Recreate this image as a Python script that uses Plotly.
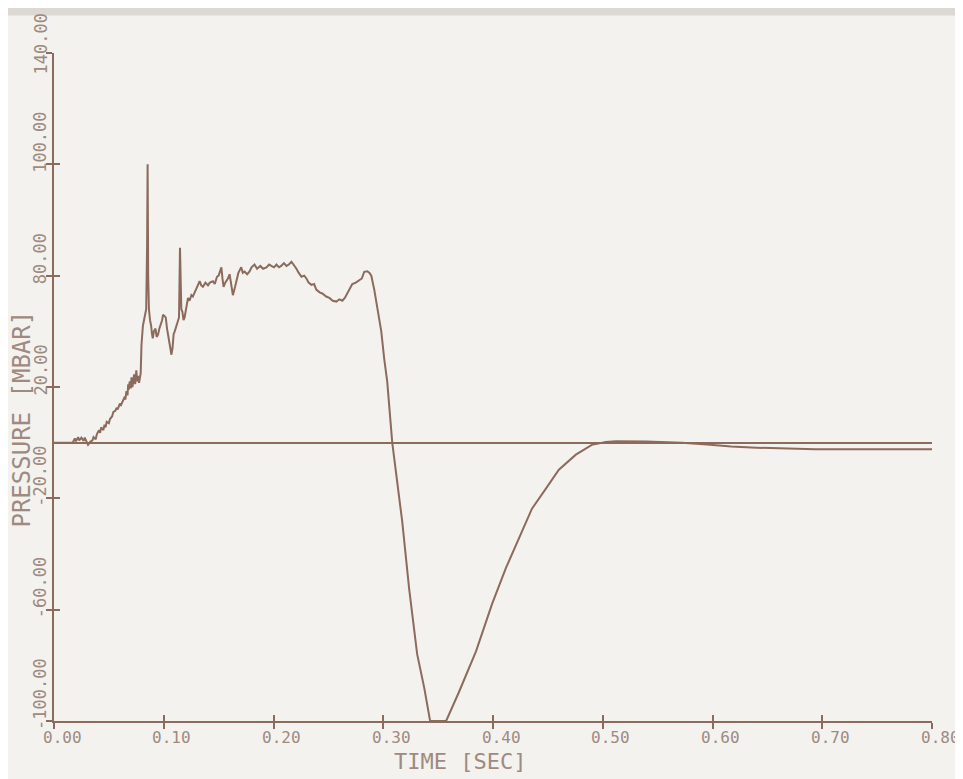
import plotly.graph_objects as go

# ---- data (time in s, pressure in mbar) ----
time_s = [0.000, 0.017, 0.019, 0.020, 0.022, 0.023, 0.025, 0.027, 0.028, 0.030,
          0.031, 0.033, 0.035, 0.036, 0.038, 0.039, 0.041, 0.042, 0.043, 0.045,
          0.046, 0.047, 0.048, 0.050, 0.051, 0.053, 0.054, 0.056, 0.057, 0.058,
          0.060, 0.061, 0.063, 0.0645, 0.065, 0.066, 0.067, 0.0676, 0.068, 0.069,
          0.070, 0.0706, 0.0715, 0.072, 0.073, 0.074, 0.075, 0.0758, 0.0765, 0.0775,
          0.078, 0.079, 0.0797, 0.0805, 0.081, 0.082, 0.083, 0.084, 0.0848, 0.0853,
          0.0858, 0.0865, 0.0875, 0.0885, 0.0893, 0.090, 0.091, 0.0925, 0.0935, 0.0948,
          0.096, 0.097, 0.0985, 0.0994, 0.1005, 0.1018, 0.103, 0.104, 0.1055, 0.107,
          0.108, 0.109, 0.110, 0.1115, 0.1128, 0.1139, 0.1148, 0.1152, 0.116, 0.117,
          0.118, 0.119, 0.1205, 0.1221, 0.1235, 0.1252, 0.1265, 0.1282, 0.130, 0.1327,
          0.1342, 0.1357, 0.138, 0.1403, 0.142, 0.1448, 0.1465, 0.1485, 0.150, 0.1515,
          0.1525, 0.1535, 0.1545, 0.156, 0.1585, 0.160, 0.1615, 0.163, 0.165, 0.1667,
          0.168, 0.1706, 0.172, 0.1736, 0.176, 0.1782, 0.180, 0.1827, 0.185, 0.188,
          0.1905, 0.1936, 0.196, 0.198, 0.2005, 0.2027, 0.205, 0.207, 0.2095, 0.2118,
          0.214, 0.2164, 0.2185, 0.2209, 0.223, 0.2255, 0.228, 0.230, 0.232, 0.2345,
          0.237, 0.239, 0.242, 0.2445, 0.248, 0.2509, 0.254, 0.2573, 0.260, 0.2627,
          0.265, 0.2673, 0.2695, 0.2718, 0.275, 0.2782, 0.2805, 0.2827, 0.2855, 0.2875,
          0.2891, 0.2918, 0.2945, 0.2982, 0.3009, 0.3036, 0.3082, 0.3173, 0.3236, 0.3309,
          0.3373, 0.3427, 0.3573, 0.3691, 0.3845, 0.3991, 0.4118, 0.4236, 0.4355, 0.4482,
          0.460, 0.4755, 0.490, 0.5027, 0.512, 0.540, 0.572, 0.595, 0.617, 0.640,
          0.663, 0.693, 0.730, 0.760, 0.800]
pressure_mbar = [0.0, 0.0, 1.5, 0.5, 2.0, 0.8, 1.8, 0.6, 1.8, 0.2,
                 -0.8, 0.3, 0.8, 2.0, 1.2, 3.0, 4.5, 3.5, 5.5, 4.5,
                 6.5, 5.5, 7.5, 7.0, 8.5, 9.5, 11.0, 11.5, 12.5, 12.0,
                 14.0, 13.5, 15.0, 16.5, 15.5, 18.5, 17.0, 21.0, 19.0, 22.0,
                 19.5, 23.5, 20.0, 22.0, 24.5, 21.0, 26.0, 22.0, 24.0, 21.5,
                 23.5, 25.0, 35.0, 40.0, 42.0, 44.0, 47.0, 48.0, 70.0, 100.0,
                 60.0, 48.0, 44.0, 42.0, 39.0, 37.5, 40.0, 41.0, 38.0, 38.8,
                 41.0, 42.0, 44.0, 46.0, 45.5, 45.0, 41.0, 38.5, 36.0, 31.6,
                 34.0, 39.0, 40.0, 41.7, 43.0, 45.0, 70.0, 55.0, 48.0, 47.0,
                 44.0, 45.0, 49.0, 52.0, 51.0, 53.0, 52.5, 54.0, 55.5, 58.0,
                 56.5, 56.0, 57.5, 56.5, 57.5, 58.0, 57.0, 59.6, 60.0, 61.5,
                 63.0, 59.0, 56.0, 57.5, 59.0, 60.5, 57.0, 53.0, 56.0, 59.0,
                 61.0, 63.0, 61.0, 61.5, 60.5, 61.5, 63.0, 64.0, 62.5, 63.5,
                 62.5, 63.0, 64.0, 63.5, 63.0, 64.0, 63.0, 63.5, 64.5, 63.5,
                 64.0, 65.0, 64.0, 62.5, 61.0, 59.6, 60.0, 59.0, 57.5, 56.7,
                 57.0, 55.0, 54.0, 53.6, 52.5, 52.0, 51.0, 50.7, 51.5, 51.0,
                 52.0, 53.6, 55.0, 57.0, 57.5, 58.5, 59.0, 61.4, 61.6, 61.0,
                 60.0, 55.0, 48.0, 40.0, 30.0, 22.0, 0.0, -28.4, -52.5, -76.0,
                 -88.0, -100.0, -100.0, -89.5, -75.0, -58.0, -45.0, -34.5, -23.7, -16.5,
                 -9.7, -4.3, -0.8, 0.2, 0.5, 0.4, 0.0, -0.7, -1.4, -1.8,
                 -2.0, -2.4, -2.4, -2.4, -2.4]

x_ticks = [0.0, 0.1, 0.2, 0.3, 0.4, 0.5, 0.6, 0.7, 0.8]
x_tick_labels = ["0.00", "0.10", "0.20", "0.30", "0.40", "0.50", "0.60", "0.70", "0.80"]
y_ticks = [140, 100, 60, 20, -20, -60, -100]
y_tick_labels = ["140.00", "100.00", "80.00", "20.00", "-20.00", "-60.00", "-100.00"]

title_text = "GHT 34, R=5.0M"
x_title = "TIME [SEC]"
y_title = "PRESSURE [MBAR]"

LINE = "#8c6a5c"
TEXT = "#9e8a7f"
FONT = "DejaVu Sans Mono"
BG = "#f3f2ef"

fig = go.Figure()
fig.add_trace(go.Scatter(x=time_s, y=pressure_mbar, mode="lines",
                         line=dict(color=LINE, width=2), cliponaxis=True,
                         showlegend=False, hoverinfo="skip"))
# invisible helper on overlay axes so the crossing ticks render
fig.add_trace(go.Scatter(x=[x_ticks[0]], y=[y_ticks[-1]], xaxis="x2", yaxis="y2",
                         mode="markers", marker=dict(opacity=0), showlegend=False,
                         hoverinfo="skip"))

axis_common = dict(showgrid=False, tickcolor=LINE, tickwidth=2, ticklen=6)
fig.update_layout(
    width=955, height=771,
    margin=dict(l=46, r=31, t=45, b=58),
    paper_bgcolor=BG, plot_bgcolor=BG,
    xaxis=dict(range=[0, 0.8], tickvals=x_ticks, showticklabels=False,
               ticks="outside", showline=True, linecolor=LINE, linewidth=2,
               zeroline=False, **axis_common),
    yaxis=dict(range=[-100, 140], tickvals=y_ticks, showticklabels=False,
               ticks="outside", showline=True, linecolor=LINE, linewidth=2,
               zeroline=True, zerolinecolor=LINE, zerolinewidth=2, **axis_common),
    xaxis2=dict(range=[0, 0.8], tickvals=x_ticks, showticklabels=False,
                ticks="inside", overlaying="x", anchor="y", side="bottom",
                showline=False, zeroline=False, **axis_common),
    yaxis2=dict(range=[-100, 140], tickvals=y_ticks, showticklabels=False,
                ticks="inside", overlaying="y", anchor="x", side="left",
                showline=False, zeroline=False, **axis_common),
    shapes=[dict(type="rect", xref="paper", yref="paper", x0=-0.06, x1=1.04,
                 y0=1.056, y1=1.075, fillcolor="#dcd8d3", line=dict(width=0),
                 layer="below")],
)

ann = []
for v, t in zip(x_ticks, x_tick_labels):
    ann.append(dict(x=v, y=-100, xref="x", yref="y", text=t, showarrow=False,
                    xanchor="center", yanchor="middle", xshift=8, yshift=-16,
                    font=dict(family=FONT, size=16, color=TEXT)))
for v, t in zip(y_ticks, y_tick_labels):
    ann.append(dict(x=0, y=v, xref="x", yref="y", text=t, showarrow=False,
                    textangle=-90, xanchor="center", yanchor="bottom",
                    xshift=-14, yshift=(-24 if v == max(y_ticks) else -11),
                    font=dict(family=FONT, size=17, color=TEXT)))
ann.append(dict(x=0.2055, y=142.3, xref="x", yref="y", text=title_text,
                showarrow=False, xanchor="center", yanchor="middle",
                font=dict(family=FONT, size=25, color=TEXT)))
ann.append(dict(x=0.37, y=-100, xref="x", yref="y", text=x_title, showarrow=False,
                xanchor="center", yanchor="middle", yshift=-40,
                font=dict(family=FONT, size=22, color=TEXT)))
ann.append(dict(x=0, y=8.3, xref="x", yref="y", text=y_title, showarrow=False,
                textangle=-90, xanchor="center", yanchor="middle", xshift=-32,
                font=dict(family=FONT, size=24, color=TEXT)))
fig.update_layout(annotations=ann)

fig.write_html("out.html")
